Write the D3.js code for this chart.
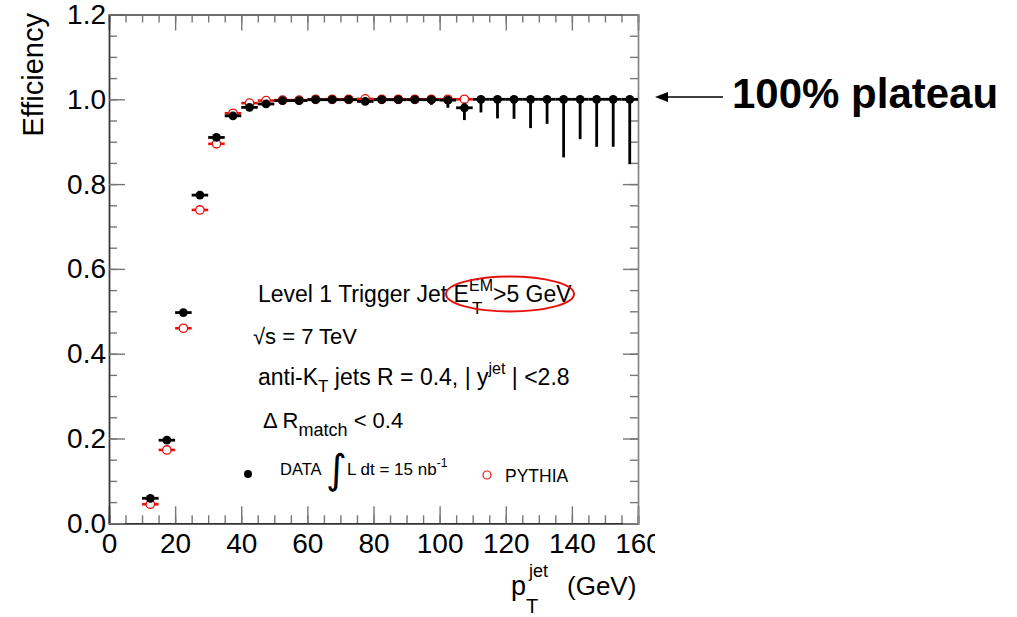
<!DOCTYPE html>
<html><head><meta charset="utf-8">
<script src="https://cdn.jsdelivr.net/npm/d3@7/dist/d3.min.js"></script>
<style>
body{margin:0;background:#fff;}
svg{display:block;font-family:"Liberation Sans",Arial,sans-serif;}
</style></head><body>
<svg id="c" width="1017" height="617"></svg>
<script>
// ---- data ----
const binCenters = [12.5,17.5,22.5,27.5,32.5,37.5,42.5,47.5,52.5,57.5,62.5,67.5,72.5,77.5,82.5,87.5,92.5,97.5,102.5,107.5,
                    112.5,117.5,122.5,127.5,132.5,137.5,142.5,147.5,152.5,157.5];
const binHalfWidth = 2.5;
const dataEff   = [0.059,0.196,0.497,0.774,0.910,0.961,0.981,0.989,0.997,0.997,0.999,0.999,0.999,0.995,0.999,0.999,0.999,0.999,0.998,0.980,
                   1.0,1.0,1.0,1.0,1.0,1.0,1.0,1.0,1.0,1.0];
const dataErrLo = [0.005,0.006,0.007,0.007,0.006,0.005,0.005,0.005,0.003,0.003,0.002,0.002,0.002,0.004,0.003,0.003,0.004,0.012,0.018,0.029,
                   0.031,0.045,0.046,0.068,0.058,0.137,0.094,0.112,0.112,0.153];
const dataErrHi = [0.005,0.006,0.007,0.007,0.006,0.005,0.005,0.005,0.003,0.003,0.001,0.001,0.001,0.004,0.001,0.001,0.001,0.001,0.002,0.012,
                   0,0,0,0,0,0,0,0,0,0];
const pythiaCenters = [12.5,17.5,22.5,27.5,32.5,37.5,42.5,47.5,52.5,57.5,62.5,67.5,72.5,77.5,82.5,87.5,92.5,97.5,102.5,107.5];
const pythiaEff     = [0.045,0.173,0.460,0.739,0.895,0.967,0.991,0.997,0.998,0.998,1.0,1.0,1.0,1.001,1.0,1.0,1.0,1.0,1.0,1.0];
const xMajorTicks = [0,20,40,60,80,100,120,140,160];
const yMajorTicks = [0,0.2,0.4,0.6,0.8,1.0,1.2];

// ---- layout ----
const svg = d3.select("#c");
svg.append("defs").append("clipPath").attr("id","pageClip")
  .append("rect").attr("x",0).attr("y",0).attr("width",655).attr("height",617);
const x = d3.scaleLinear().domain([0,160]).range([109,638]);
const y = d3.scaleLinear().domain([0,1.2]).range([523.3,14.5]);
const xMinor = d3.range(0,161,5), yMinor = d3.range(0,1.2001,0.05);

function styleAxis(g, lineColor){
  g.select(".domain").attr("stroke",lineColor).attr("stroke-width",1.4);
  g.selectAll(".tick line").attr("stroke","#777").attr("stroke-width",1.4);
}
// bottom
let g = svg.append("g").attr("transform",`translate(0,${y(0)})`)
  .call(d3.axisBottom(x).tickValues(xMinor).tickSize(-8).tickFormat(""));
styleAxis(g,"#333");
g = svg.append("g").attr("clip-path","url(#pageClip)").append("g").attr("transform",`translate(0,${y(0)})`)
  .call(d3.axisBottom(x).tickValues(xMajorTicks).tickSize(-17).tickPadding(10).tickFormat(d3.format("d")));
styleAxis(g,"#333");
g.selectAll("text").attr("font-size",28).attr("fill","#000").attr("font-family","Liberation Sans, Arial");
// top
g = svg.append("g").attr("transform",`translate(0,${y(1.2)})`)
  .call(d3.axisTop(x).tickValues(xMinor).tickSize(-8).tickFormat(""));
styleAxis(g,"#666");
g = svg.append("g").attr("transform",`translate(0,${y(1.2)})`)
  .call(d3.axisTop(x).tickValues(xMajorTicks).tickSize(-16).tickFormat(""));
styleAxis(g,"#666");
// left
g = svg.append("g").attr("transform",`translate(${x(0)},0)`)
  .call(d3.axisLeft(y).tickValues(yMinor).tickSize(-8).tickFormat(""));
styleAxis(g,"#333");
g = svg.append("g").attr("transform",`translate(${x(0)},0)`)
  .call(d3.axisLeft(y).tickValues(yMajorTicks).tickSize(-16).tickPadding(3).tickFormat(d3.format(".1f")));
styleAxis(g,"#333");
g.selectAll("text").attr("font-size",28).attr("fill","#000").attr("font-family","Liberation Sans, Arial");
// right
g = svg.append("g").attr("transform",`translate(${x(160)},0)`)
  .call(d3.axisRight(y).tickValues(yMinor).tickSize(-8).tickFormat(""));
styleAxis(g,"#888");
g = svg.append("g").attr("transform",`translate(${x(160)},0)`)
  .call(d3.axisRight(y).tickValues(yMajorTicks).tickSize(-15).tickFormat(""));
styleAxis(g,"#888");

// ---- PYTHIA (drawn below) ----
const red = "#e8100c";
const py = pythiaCenters.map((c,i)=>({c,v:pythiaEff[i]}));
svg.append("g").selectAll("line").data(py).join("line")
  .attr("x1",d=>x(d.c-binHalfWidth)).attr("x2",d=>x(d.c+binHalfWidth))
  .attr("y1",d=>y(d.v)).attr("y2",d=>y(d.v))
  .attr("stroke",red).attr("stroke-width",2.6);
svg.append("g").selectAll("circle").data(py).join("circle")
  .attr("cx",d=>x(d.c)).attr("cy",d=>y(d.v)).attr("r",4.2)
  .attr("fill","#fff").attr("stroke",red).attr("stroke-width",1.3);

// ---- DATA ----
const dt = binCenters.map((c,i)=>({c,v:dataEff[i],lo:dataErrLo[i],hi:dataErrHi[i]}));
const dg = svg.append("g");
dg.selectAll("line.h").data(dt).join("line").attr("class","h")
  .attr("x1",d=>x(d.c-binHalfWidth)).attr("x2",d=>x(d.c+binHalfWidth))
  .attr("y1",d=>y(d.v)).attr("y2",d=>y(d.v))
  .attr("stroke","#000").attr("stroke-width",2.8);
dg.selectAll("line.v").data(dt).join("line").attr("class","v")
  .attr("x1",d=>x(d.c)).attr("x2",d=>x(d.c))
  .attr("y1",d=>y(Math.min(1,d.v+d.hi))).attr("y2",d=>y(d.v-d.lo))
  .attr("stroke","#000").attr("stroke-width",2.8);
dg.selectAll("circle").data(dt).join("circle")
  .attr("cx",d=>x(d.c)).attr("cy",d=>y(d.v)).attr("r",4.4).attr("fill","#000");

// ---- axis titles ----
svg.append("text").attr("transform","translate(43,13) rotate(-90)")
  .attr("text-anchor","end").attr("font-size",29).text("Efficiency");
svg.append("text").attr("x",511).attr("y",595).attr("font-size",27).text("p");
svg.append("text").attr("x",529).attr("y",577).attr("font-size",18).text("jet");
svg.append("text").attr("x",526).attr("y",613).attr("font-size",20).text("T");
svg.append("text").attr("x",567).attr("y",595).attr("font-size",26).text("(GeV)");

// ---- annotations ----
const ann = svg.append("g").attr("font-size",23).attr("fill","#000");
let t = ann.append("text").attr("x",258).attr("y",302);
t.append("tspan").text("Level 1 Trigger Jet E");
t.append("tspan").attr("font-size",16).attr("dy",-11).text("EM");
t.append("tspan").attr("dy",11).text(">5 GeV");
ann.append("text").attr("x",472).attr("y",314).attr("font-size",17).text("T");
svg.append("ellipse").attr("cx",510).attr("cy",294).attr("rx",64).attr("ry",17.5)
  .attr("fill","none").attr("stroke",red).attr("stroke-width",2);

ann.append("text").attr("x",253).attr("y",344).attr("font-size",22).text("\u221As = 7 TeV");

t = ann.append("text").attr("x",258).attr("y",385);
t.append("tspan").text("anti-K");
t.append("tspan").attr("font-size",17).attr("dy",7).text("T");
t.append("tspan").attr("dy",-7).text(" jets R = 0.4, | y");
t.append("tspan").attr("font-size",16).attr("dy",-11).text("jet");
t.append("tspan").attr("dy",11).text(" | <2.8");

t = ann.append("text").attr("x",263).attr("y",428).attr("font-size",22);
t.append("tspan").text("\u0394 R");
t.append("tspan").attr("font-size",18).attr("dy",8).text("match");
t.append("tspan").attr("dy",-8).text(" < 0.4");

// legend
svg.append("circle").attr("cx",248).attr("cy",474).attr("r",4).attr("fill","#000");
svg.append("text").attr("x",280).attr("y",475).attr("font-size",16.5).text("DATA");
svg.append("text").attr("x",326).attr("y",483).attr("font-size",40).attr("font-family","DejaVu Sans").text("\u222B");
t = svg.append("text").attr("x",347).attr("y",475).attr("font-size",17);
t.append("tspan").text("L dt = 15 nb");
t.append("tspan").attr("font-size",12).attr("dy",-8).text("-1");
svg.append("circle").attr("cx",487).attr("cy",475).attr("r",4).attr("fill","#fff").attr("stroke",red).attr("stroke-width",1.2);
svg.append("text").attr("x",505).attr("y",482).attr("font-size",17.5).text("PYTHIA");

// arrow + plateau
svg.append("line").attr("x1",723).attr("x2",664).attr("y1",97).attr("y2",97).attr("stroke","#000").attr("stroke-width",1.6);
svg.append("path").attr("d","M655,97 L668,92 L668,102 Z").attr("fill","#000");
svg.append("text").attr("x",732).attr("y",108).attr("font-size",42).attr("font-weight","bold").text("100% plateau");
</script></body></html>
